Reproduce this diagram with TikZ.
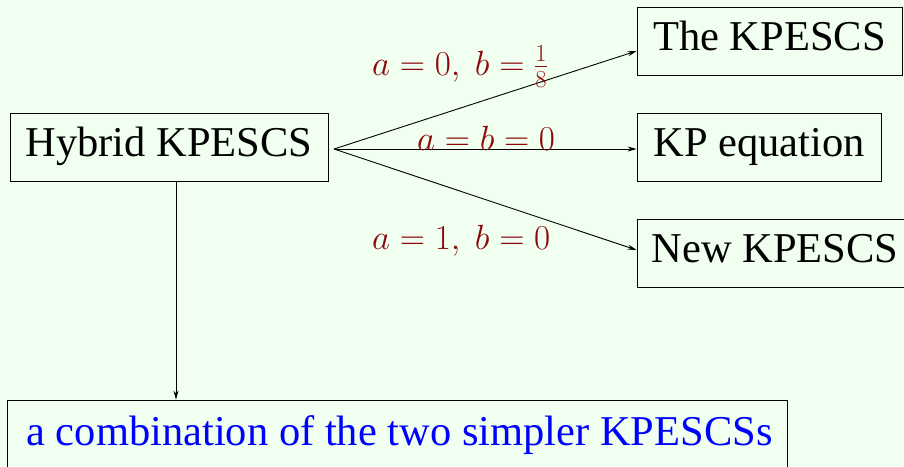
\documentclass[tikz,border=0pt]{standalone}
\usepackage{fix-cm}
\usepackage{fontspec}
\setmainfont{Liberation Serif}
\usetikzlibrary{arrows.meta}
\definecolor{bgcol}{RGB}{240,255,240}
\definecolor{labred}{RGB}{140,10,10}
\begin{document}
\begin{tikzpicture}[x=1pt,y=-1pt,
  box/.style={draw=black,line width=0.8pt,rectangle,inner sep=0pt,minimum height=68pt,
    text height=28pt,text depth=9pt,font=\fontsize{42.5}{50}\selectfont},
  conn/.style={draw=black,line width=0.9pt,-{Stealth[length=9pt,width=5pt]}},
  lab/.style={text=labred,inner sep=0pt,font=\fontsize{35}{41}\selectfont}]
\useasboundingbox (0,0) rectangle (904,466);
\fill[bgcol] (0,0) rectangle (904,466);
\node[box,minimum width=318pt] (hyb) at (169,147) {Hybrid KPESCS};
\node[box,minimum width=265pt] (the) at (769.5,41) {The KPESCS};
\node[box,minimum width=244pt] (kp) at (759,147) {KP equation};
\node[box,minimum width=276pt] (new) at (775,253) {New KPESCS};
\node[box,minimum width=780pt,minimum height=90pt,text=blue] (comb) at (397,445) {};
\node[font=\fontsize{42.5}{50}\selectfont,text=blue,anchor=base,inner sep=0pt] (combtxt) at (399.5,445) {a combination of the two simpler KPESCSs};
\coordinate (src) at (334,149);
\draw[conn] (src) -- ([yshift=-10pt]the.west);
\draw[conn] (src) -- ([yshift=-2pt]kp.west);
\draw[conn] (src) -- ([yshift=3pt]new.west);
\draw[conn] ([xshift=7pt]hyb.south) -- ([xshift=7pt]hyb.south |- comb.north);
\node[lab,anchor=base west] (l1) at (372,75) {$a=0,\ b=\frac{1}{8}$};
\node[lab,anchor=base west] (l2) at (417,150) {$a=b=0$};
\node[lab,anchor=base west] (l3) at (372,249) {$a=1,\ b=0$};
\end{tikzpicture}
\end{document}
